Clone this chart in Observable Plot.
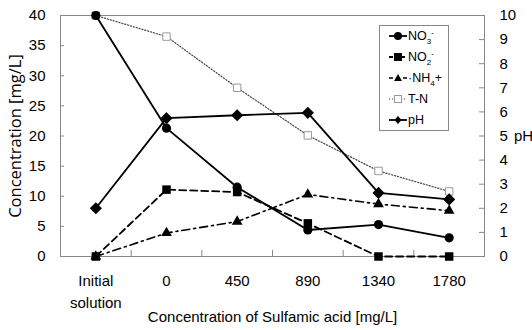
<!DOCTYPE html>
<html><head><meta charset="utf-8">
<script src="https://cdn.jsdelivr.net/npm/d3@7"></script>
<script src="https://cdn.jsdelivr.net/npm/@observablehq/plot@0.6"></script>
<style>
body{margin:0;background:#fff;}
#wrap{position:relative;width:532px;height:330px;}
#legend{position:absolute;left:379px;top:25px;width:68px;height:104px;border:1px solid #888;background:#fff;
 font-family:"Liberation Sans Narrow","Liberation Sans",sans-serif;font-size:12.5px;color:#000;}
.row{position:absolute;left:9px;height:14px;display:flex;align-items:center;}
.row svg{margin-right:1px;}
sub,sup{font-size:8px;line-height:0;}
</style></head>
<body><div id="wrap"><div id="chart"></div><div id="legend"></div></div>
<script>
const categories = ["Initial\nsolution", "0", "450", "890", "1340", "1780"];
const no3 = [40, 21.3, 11.5, 4.4, 5.3, 3.1];
const no2 = [0, 11.1, 10.7, 5.5, 0, 0];
const nh4 = [0, 3.9, 5.8, 10.3, 8.7, 7.6];
const tn  = [40, 36.5, 28.0, 20.1, 14.2, 10.8];
const ph  = [2.0, 5.74, 5.86, 5.96, 2.64, 2.37];
const leftTicks = [0,5,10,15,20,25,30,35,40];
const rightTicks = [0,1,2,3,4,5,6,7,8,9,10];

const PH_SCALE = 4; // right axis 0-10 maps onto left axis 0-40
const toRows = arr => arr.map((v, i) => ({i, v}));
const phRows = ph.map((v, i) => ({i, v: v * PH_SCALE}));

const narrow = '"Liberation Sans Narrow","Liberation Sans",sans-serif';

const chart = Plot.plot({
  width: 532, height: 330,
  marginLeft: 60, marginRight: 48, marginTop: 15, marginBottom: 74,
  style: {fontFamily: narrow, fontSize: "15px", color: "#000", background: "#fff"},
  x: {type: "linear", domain: [-0.5, categories.length - 0.5], axis: null},
  y: {domain: [0, 40], axis: null},
  marks: [
    Plot.frame({stroke: "#888"}),
    Plot.axisY({ticks: leftTicks, label: null, tickSize: -4, tickPadding: 19, stroke: "#888", fontSize: 15, tickFormat: d => d}),
    Plot.axisY({anchor: "right", label: null, ticks: rightTicks.map(d => d * PH_SCALE), tickSize: -6, tickPadding: 21, stroke: "#888", fontSize: 15, tickFormat: d => d / PH_SCALE}),
    Plot.axisX({ticks: d3.range(categories.length), label: null, tickSize: 0, tickPadding: 14, tickFormat: i => categories[i], fontSize: 15, lineHeight: 1.45}),
    Plot.axisX({ticks: d3.range(categories.length - 1).map(i => i + 0.5), label: null, tickSize: -6, stroke: "#888", tickFormat: () => ""}),
    Plot.text(["Concentration of Sulfamic acid [mg/L]"], {frameAnchor: "bottom", textAnchor: "middle", dy: 65, fontSize: 15}),
    Plot.text(["Concentration [mg/L]"], {frameAnchor: "left", textAnchor: "middle", rotate: -90, dx: -45, fontSize: 16.5, fontFamily: '"Open Sans",sans-serif'}),
    Plot.text(["pH"], {frameAnchor: "right", textAnchor: "middle", dx: 39, fontSize: 15}),
    // T-N
    Plot.line(toRows(tn), {x: "i", y: "v", stroke: "#444", strokeWidth: 1.2, strokeDasharray: "1.2,1.8"}),
    Plot.dot(toRows(tn), {x: "i", y: "v", symbol: "square", r: 4.2, stroke: "#999", fill: "#fff", strokeWidth: 1}),
    // NH4
    Plot.line(toRows(nh4), {x: "i", y: "v", stroke: "#000", strokeWidth: 1.6, strokeDasharray: "8,4,2,4"}),
    Plot.dot(toRows(nh4), {x: "i", y: "v", symbol: "triangle", r: 4, fill: "#000"}),
    // NO2
    Plot.line(toRows(no2), {x: "i", y: "v", stroke: "#000", strokeWidth: 1.8, strokeDasharray: "7,4"}),
    Plot.dot(toRows(no2), {x: "i", y: "v", symbol: "square", r: 4.8, fill: "#000"}),
    // pH
    Plot.line(phRows, {x: "i", y: "v", stroke: "#000", strokeWidth: 1.8}),
    Plot.dot(phRows, {x: "i", y: "v", symbol: "diamond2", r: 4.5, fill: "#000", stroke: "#000"}),
    // NO3
    Plot.line(toRows(no3), {x: "i", y: "v", stroke: "#000", strokeWidth: 1.8}),
    Plot.dot(toRows(no3), {x: "i", y: "v", symbol: "circle", r: 4.6, fill: "#000"})
  ]
});
document.getElementById("chart").appendChild(chart);

const legendItems = [
  {label: "NO<sub>3</sub><sup>-</sup>", sym: '<circle cx="9" cy="7" r="4" fill="#000"/>', line: '<line x1="0" x2="18" y1="7" y2="7" stroke="#000" stroke-width="1.8"/>'},
  {label: "NO<sub>2</sub><sup>-</sup>", sym: '<rect x="5" y="3" width="8" height="8" fill="#000"/>', line: '<line x1="0" x2="18" y1="7" y2="7" stroke="#000" stroke-width="1.8" stroke-dasharray="4,2"/>'},
  {label: "&middot;NH<sub>4</sub>+", sym: '<path d="M9,3L13,10H5Z" fill="#000"/>', line: '<line x1="0" x2="18" y1="7" y2="7" stroke="#000" stroke-width="1.6" stroke-dasharray="4,3"/>'},
  {label: "T-N", sym: '<rect x="5.5" y="3.5" width="7" height="7" fill="#fff" stroke="#999"/>', line: '<line x1="0" x2="18" y1="7" y2="7" stroke="#444" stroke-width="1.2" stroke-dasharray="1.2,1.8"/>'},
  {label: "pH", sym: '<path d="M9,3L12.5,7L9,11L5.5,7Z" fill="#000"/>', line: '<line x1="0" x2="18" y1="7" y2="7" stroke="#000" stroke-width="1.8"/>'}
];
const leg = document.getElementById("legend");
legendItems.forEach((d, k) => {
  const row = document.createElement("div");
  row.className = "row";
  row.style.top = (3 + k * 21) + "px";
  row.innerHTML = `<svg width="18" height="14">${d.line}${d.sym}</svg><span>${d.label}</span>`;
  leg.appendChild(row);
});
</script>
</body></html>
